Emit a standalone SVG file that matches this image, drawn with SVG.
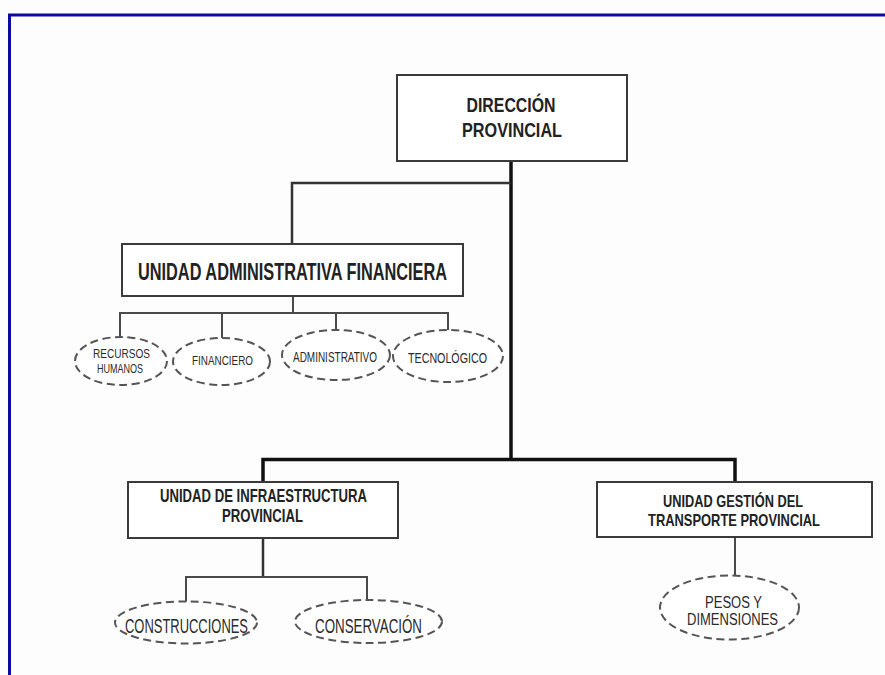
<svg xmlns="http://www.w3.org/2000/svg" width="885" height="675" viewBox="0 0 885 675">
  <style>
    .frame { fill: none; stroke: #0b0ba3; stroke-width: 3; }
    .box { fill: #ffffff; stroke: #3a3a3a; stroke-width: 2; }
    .unit { fill: #ffffff; stroke: #555555; stroke-width: 2; stroke-dasharray: 8 4.5; }
    .bold { font-family: "Liberation Sans", Arial, sans-serif; font-weight: bold; fill: #222222; text-anchor: middle; }
    .plain { font-family: "Liberation Sans", Arial, sans-serif; fill: #2a2a2a; text-anchor: middle; }
    .trunk { fill: none; stroke: #111111; stroke-width: 3.5; }
    .link { fill: none; stroke: #333333; stroke-width: 2.5; }
    .thin { fill: none; stroke: #4a4a4a; stroke-width: 2; }
  </style>

  <rect x="0" y="0" width="885" height="675" fill="#fdfdfd"/>
  <!-- page frame: top and left edges only -->
  <path class="frame" d="M9.5 675 V15 H885"/>

  <g id="connectors">
    <!-- main trunk from the directorate down to the lower units -->
    <path class="trunk" d="M511 161 V459.5"/>
    <path class="trunk" d="M263 482 V459.5 H735 V482"/>
    <!-- branch to the administrative-financial unit -->
    <path class="link" d="M511 183 H292 V244"/>
    <!-- administrative-financial unit to its four areas -->
    <path class="thin" d="M293 296 V313"/>
    <path class="thin" d="M120 337 V313 H448 V330"/>
    <path class="thin" d="M222 313 V338"/>
    <path class="thin" d="M336 313 V330"/>
    <!-- infrastructure unit to its two areas -->
    <path class="link" d="M263 538 V577"/>
    <path class="thin" d="M186 602 V577 H367 V600"/>
    <!-- transport unit to weights and dimensions -->
    <path class="thin" d="M735 537 V575"/>
  </g>

  <g id="direccion-provincial">
    <rect class="box" x="397" y="75" width="230" height="86"/>
    <text class="bold" x="511" y="112" font-size="21" textLength="89" lengthAdjust="spacingAndGlyphs">DIRECCIÓN</text>
    <text class="bold" x="512" y="137" font-size="21" textLength="100" lengthAdjust="spacingAndGlyphs">PROVINCIAL</text>
  </g>

  <g id="unidad-administrativa-financiera">
    <rect class="box" x="122" y="244" width="341" height="52"/>
    <text class="bold" x="292.5" y="280" font-size="24" textLength="309" lengthAdjust="spacingAndGlyphs">UNIDAD ADMINISTRATIVA FINANCIERA</text>
  </g>

  <g id="recursos-humanos">
    <ellipse class="unit" cx="121" cy="361" rx="46" ry="24"/>
    <text class="plain" x="121.5" y="358" font-size="13.5" textLength="57" lengthAdjust="spacingAndGlyphs">RECURSOS</text>
    <text class="plain" x="120" y="373" font-size="13.5" textLength="46" lengthAdjust="spacingAndGlyphs">HUMANOS</text>
  </g>

  <g id="financiero">
    <ellipse class="unit" cx="221.5" cy="361.5" rx="48.5" ry="23.5"/>
    <text class="plain" x="222.5" y="365" font-size="13.5" textLength="61" lengthAdjust="spacingAndGlyphs">FINANCIERO</text>
  </g>

  <g id="administrativo">
    <ellipse class="unit" cx="336" cy="355" rx="54" ry="25"/>
    <text class="plain" x="335" y="362" font-size="14" textLength="84" lengthAdjust="spacingAndGlyphs">ADMINISTRATIVO</text>
  </g>

  <g id="tecnologico">
    <ellipse class="unit" cx="448" cy="356" rx="55" ry="26"/>
    <text class="plain" x="447.5" y="363" font-size="14" textLength="79" lengthAdjust="spacingAndGlyphs">TECNOLÓGICO</text>
  </g>

  <g id="unidad-infraestructura-provincial">
    <rect class="box" x="128" y="482" width="270" height="56"/>
    <text class="bold" x="263.5" y="502" font-size="19" textLength="207" lengthAdjust="spacingAndGlyphs">UNIDAD DE INFRAESTRUCTURA</text>
    <text class="bold" x="262.5" y="522" font-size="19" textLength="81" lengthAdjust="spacingAndGlyphs">PROVINCIAL</text>
  </g>

  <g id="construcciones">
    <ellipse class="unit" cx="186" cy="622.5" rx="71" ry="21"/>
    <text class="plain" x="186.5" y="633" font-size="20" textLength="123" lengthAdjust="spacingAndGlyphs">CONSTRUCCIONES</text>
  </g>

  <g id="conservacion">
    <ellipse class="unit" cx="368.5" cy="621.5" rx="73.5" ry="21.5"/>
    <text class="plain" x="368.5" y="633" font-size="20" textLength="107" lengthAdjust="spacingAndGlyphs">CONSERVACIÓN</text>
  </g>

  <g id="unidad-gestion-transporte">
    <rect class="box" x="597" y="482" width="275" height="55"/>
    <text class="bold" x="733" y="507" font-size="17" textLength="140" lengthAdjust="spacingAndGlyphs">UNIDAD GESTIÓN DEL</text>
    <text class="bold" x="734" y="526" font-size="17" textLength="172" lengthAdjust="spacingAndGlyphs">TRANSPORTE PROVINCIAL</text>
  </g>

  <g id="pesos-dimensiones">
    <ellipse class="unit" cx="729.5" cy="607.5" rx="69.5" ry="32"/>
    <text class="plain" x="733.5" y="608" font-size="16" textLength="57" lengthAdjust="spacingAndGlyphs">PESOS Y</text>
    <text class="plain" x="732.5" y="625" font-size="16" textLength="91" lengthAdjust="spacingAndGlyphs">DIMENSIONES</text>
  </g>
</svg>
